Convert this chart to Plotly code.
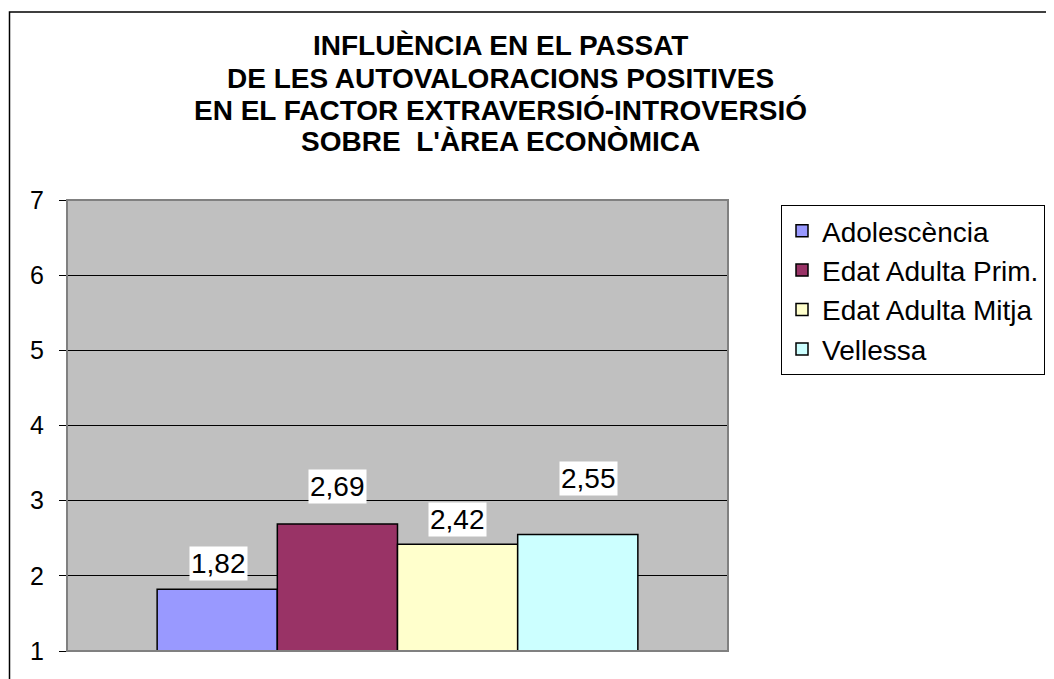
import plotly.graph_objects as go

# ---- data ----
category = ["Àrea econòmica"]
series_names = ["Adolescència", "Edat Adulta Prim.", "Edat Adulta Mitja", "Vellessa"]
series_values = [1.82, 2.69, 2.42, 2.55]
value_labels = ["1,82", "2,69", "2,42", "2,55"]
y_ticks = [1, 2, 3, 4, 5, 6, 7]
title_lines = [
    "INFLUÈNCIA EN EL PASSAT",
    "DE LES AUTOVALORACIONS POSITIVES",
    "EN EL FACTOR EXTRAVERSIÓ-INTROVERSIÓ",
    "SOBRE  L'ÀREA ECONÒMICA",
]

# ---- style ----
colors = ["#9999FF", "#993366", "#FFFFCC", "#CCFFFF"]
label_yshift = [8, 20, 7, 38]
label_xshift = [1, 0, 0, 11]
OFF = 8  # page body margin
W, H = 1054 - OFF, 679 - OFF
ML, MR, MT, MB = 67 - OFF, 326, 200 - OFF, 28
PW, PH = W - ML - MR, H - MT - MB
FONT = "Liberation Sans, Arial, sans-serif"
bargap = 1.5 / 5.5

def px_x(x):
    return (x - OFF - ML) / PW

def px_y(y):
    return (H - MB - (y - OFF)) / PH

fig = go.Figure()
for name, val, col in zip(series_names, series_values, colors):
    fig.add_trace(go.Bar(
        x=category, y=[val], name=name,
        marker=dict(color=col, line=dict(color="black", width=1.5)),
    ))

n = len(series_names)
w = (1 - bargap) / n
annotations = []
for i, (val, lab) in enumerate(zip(series_values, value_labels)):
    cx = -0.5 * (1 - bargap) + w * (i + 0.5)
    annotations.append(dict(
        x=cx, y=val, xref="x", yref="y", text=lab, showarrow=False,
        yanchor="bottom", yshift=label_yshift[i], xshift=label_xshift[i],
        bgcolor="white", borderpad=1,
        font=dict(family=FONT, size=28, color="black"),
    ))

title_centers = [46, 78, 110, 141]
for line, yc in zip(title_lines, title_centers):
    annotations.append(dict(
        x=px_x(500), y=px_y(yc), xref="paper", yref="paper", text="<b>" + line + "</b>",
        showarrow=False, xanchor="center", yanchor="middle",
        font=dict(family=FONT, size=28, color="black"),
    ))

shapes = [
    dict(type="rect", xref="paper", yref="paper", x0=0, x1=1, y0=0, y1=1,
         line=dict(color="#808080", width=2), layer="above"),
    dict(type="rect", xref="paper", yref="paper",
         x0=px_x(9.5), x1=px_x(1054 + 20), y0=px_y(679 + 20), y1=px_y(12),
         line=dict(color="black", width=1.5)),
]

fig.update_layout(
    width=W, height=H,
    margin=dict(l=ML, r=MR, t=MT, b=MB, autoexpand=False),
    paper_bgcolor="white", plot_bgcolor="#C0C0C0",
    barmode="group", bargap=bargap, bargroupgap=0,
    font=dict(family=FONT, color="black"),
    showlegend=True,
    legend=dict(
        x=px_x(781), y=px_y(205), xanchor="left", yanchor="top",
        bgcolor="white", bordercolor="black", borderwidth=1,
        font=dict(family=FONT, size=28, color="black"),
        traceorder="normal",
    ),
    annotations=annotations, shapes=shapes,
    xaxis=dict(showticklabels=False, showgrid=False, ticks="",
               showline=True, linecolor="#808080", linewidth=1),
    yaxis=dict(range=[1, 7], tickvals=y_ticks, showgrid=True, gridcolor="black",
               gridwidth=1, zeroline=False, ticks="outside", ticklen=7,
               tickcolor="black", showline=True, linecolor="#404040", linewidth=1,
               tickfont=dict(family=FONT, size=25, color="black"),
               ticklabelstandoff=10),
)

fig.write_html("out.html")
